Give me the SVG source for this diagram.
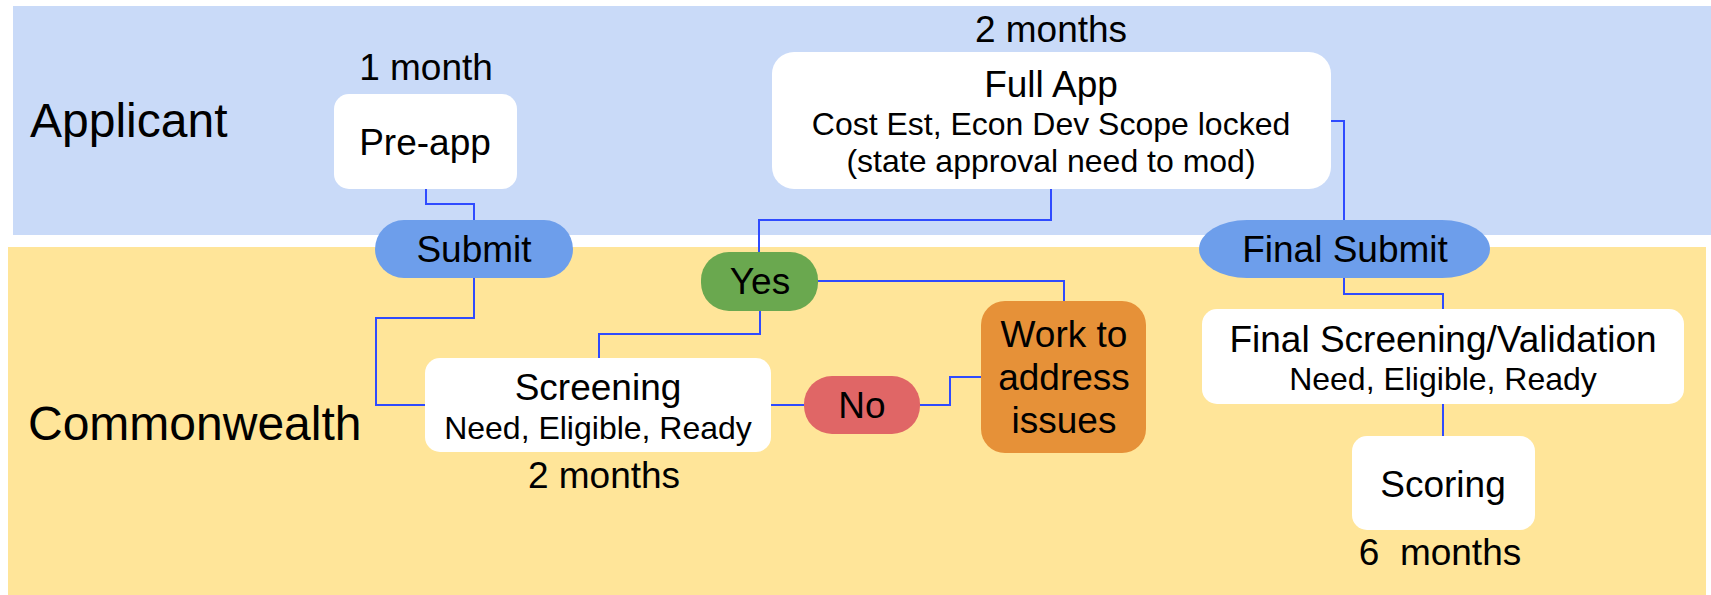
<svg xmlns="http://www.w3.org/2000/svg" width="1711" height="595" viewBox="0 0 1711 595">
  <style>
    text { font-family: "Liberation Sans", Arial, sans-serif; fill: #000; text-anchor: middle; }
    .lane { font-size: 48px; text-anchor: start; }
    .t { font-size: 37px; }
    .s { font-size: 32px; }
    .box { fill: #ffffff; }
    .pill-blue { fill: #6d9eeb; }
    .pill-green { fill: #6aa84f; }
    .pill-red { fill: #e06666; }
    .orange { fill: #e69138; }
    .conn { fill: none; stroke: #2f4bff; stroke-width: 2; }
  </style>

  <!-- swimlane bands -->
  <rect x="0" y="0" width="1711" height="595" fill="#ffffff"/>
  <rect x="13" y="6" width="1698" height="229" fill="#c9daf8"/>
  <rect x="8" y="247" width="1698" height="348" fill="#ffe599"/>
  <text class="lane" x="30" y="137">Applicant</text>
  <text class="lane" x="28" y="440">Commonwealth</text>

  <!-- connectors -->
  <g id="connectors">
    <polyline class="conn" points="426,189 426,204 474,204 474,220"/>
    <polyline class="conn" points="474,278 474,318 376,318 376,405 426,405"/>
    <polyline class="conn" points="1051,189 1051,220 759,220 759,252"/>
    <polyline class="conn" points="760,311 760,334 599,334 599,358"/>
    <polyline class="conn" points="818,281 1064,281 1064,301"/>
    <polyline class="conn" points="771,405 804,405"/>
    <polyline class="conn" points="920,405 950,405 950,377 981,377"/>
    <polyline class="conn" points="1331,121 1344,121 1344,220"/>
    <polyline class="conn" points="1344,278 1344,294 1443,294 1443,309"/>
    <polyline class="conn" points="1443,404 1443,436"/>
  </g>

  <g id="preapp">
    <text class="t" x="426" y="80">1 month</text>
    <rect class="box" x="334" y="94" width="183" height="95" rx="15"/>
    <text class="t" x="425" y="155">Pre-app</text>
  </g>

  <g id="submit">
    <rect class="pill-blue" x="375" y="220" width="198" height="58" rx="29"/>
    <text class="t" x="474" y="262">Submit</text>
  </g>

  <g id="fullapp">
    <text class="t" x="1051" y="42">2 months</text>
    <rect class="box" x="772" y="52" width="559" height="137" rx="22"/>
    <text class="t" x="1051" y="97">Full App</text>
    <text class="s" x="1051" y="135">Cost Est, Econ Dev Scope locked</text>
    <text class="s" x="1051" y="172">(state approval need to mod)</text>
  </g>

  <g id="yes">
    <rect class="pill-green" x="701" y="252" width="117" height="59" rx="28"/>
    <text class="t" x="760" y="294">Yes</text>
  </g>

  <g id="screening">
    <rect class="box" x="425" y="358" width="346" height="94" rx="15"/>
    <text class="t" x="598" y="400">Screening</text>
    <text class="s" x="598" y="439">Need, Eligible, Ready</text>
    <text class="t" x="604" y="488">2 months</text>
  </g>

  <g id="no">
    <rect class="pill-red" x="804" y="376" width="116" height="58" rx="28"/>
    <text class="t" x="862" y="418">No</text>
  </g>

  <g id="work">
    <rect class="orange" x="981" y="301" width="165" height="152" rx="24"/>
    <text class="t" x="1064" y="347">Work to</text>
    <text class="t" x="1064" y="390">address</text>
    <text class="t" x="1064" y="433">issues</text>
  </g>

  <g id="finalsubmit">
    <rect class="pill-blue" x="1199" y="220" width="291" height="58" rx="48" ry="29"/>
    <text class="t" x="1345" y="262">Final Submit</text>
  </g>

  <g id="finalscreening">
    <rect class="box" x="1202" y="309" width="482" height="95" rx="15"/>
    <text class="t" x="1443" y="352">Final Screening/Validation</text>
    <text class="s" x="1443" y="390">Need, Eligible, Ready</text>
  </g>

  <g id="scoring">
    <rect class="box" x="1352" y="436" width="183" height="94" rx="15"/>
    <text class="t" x="1443" y="497">Scoring</text>
    <text class="t" x="1440" y="565" xml:space="preserve">6  months</text>
  </g>
</svg>
